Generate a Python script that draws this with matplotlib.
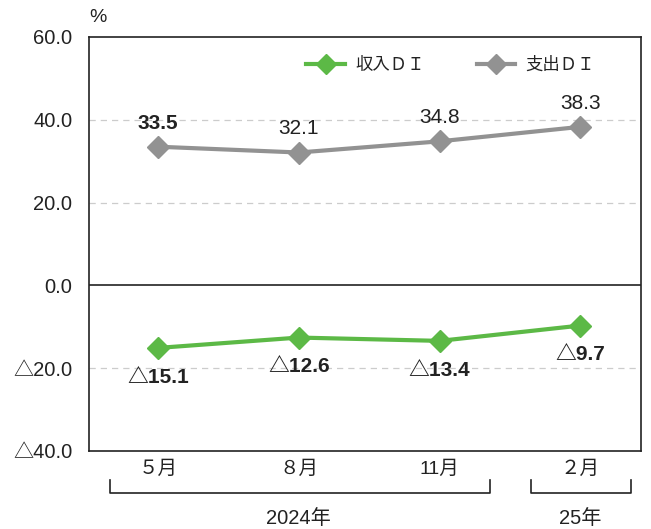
import matplotlib.pyplot as plt

plt.rcParams['font.family'] = ['Liberation Sans', 'Noto Sans CJK JP', 'DejaVu Sans']

months = ['５月', '８月', '11月', '２月']
income_di = [-15.1, -12.6, -13.4, -9.7]
expense_di = [33.5, 32.1, 34.8, 38.3]
y_ticks = [60, 40, 20, 0, -20, -40]
y_tick_labels = ['60.0', '40.0', '20.0', '0.0', '△20.0', '△40.0']
year_groups = [('2024年', 0, 2), ('25年', 3, 3)]

green = '#5cb946'
gray = '#929292'


def fmt(v):
    return f'△{abs(v):.1f}' if v < 0 else f'{v:.1f}'


fig = plt.figure(figsize=(6.51, 5.29), dpi=100)
ax = fig.add_axes([89 / 651, 1 - 451 / 529, 552 / 651, 414 / 529])

x = list(range(len(months)))
ax.plot(x, income_di, color=green, lw=3, marker='D', ms=11.5, label='収入ＤＩ', zorder=3)
ax.plot(x, expense_di, color=gray, lw=3, marker='D', ms=11.5, label='支出ＤＩ', zorder=3)

ax.set_xlim(-0.49, 3.43)
ax.set_ylim(-40, 60)
ax.set_yticks(y_ticks)
ax.set_yticklabels(y_tick_labels, fontsize=14.5, color='#222222')
ax.tick_params(axis='y', length=0, pad=12)
ax.set_xticks(x)
ax.set_xticklabels(months, fontsize=14, color='#222222')
ax.tick_params(axis='x', length=0, pad=7)

for yv in [40, 20, -20]:
    ax.axhline(yv, color='#cccccc', lw=0.9, ls=(0, (5, 4)), zorder=1)
ax.axhline(0, color='#222222', lw=1.2, zorder=2)
for s in ax.spines.values():
    s.set_color('#222222')
    s.set_linewidth(1.2)

# value labels
for i, v in enumerate(expense_di):
    ax.annotate(fmt(v), (i, v), xytext=(0, 17), textcoords='offset points',
                ha='center', va='center', fontsize=15, color='#222222',
                fontweight='bold' if i == 0 else 'normal')
for i, v in enumerate(income_di):
    ax.annotate(fmt(v), (i, v), xytext=(0, -21), textcoords='offset points',
                ha='center', va='center', fontsize=15, fontweight='bold',
                color='#222222')

ax.text(-0.49, 1.027, '%', transform=ax.get_xaxis_transform(), fontsize=14,
        ha='left', va='bottom', color='#222222')

leg = ax.legend(loc='upper center', bbox_to_anchor=(0.655, 0.99), ncol=2, frameon=False,
                fontsize=12.5, handlelength=2.2, columnspacing=3, handletextpad=0.6,
                markerscale=0.9)
for t in leg.get_texts():
    t.set_color('#222222')

# year brackets below the month labels
trans = ax.get_xaxis_transform()
for label, start, end in year_groups:
    x0, x1 = start - 0.34, end + 0.36
    if start == end:
        x0, x1 = start - 0.35, end + 0.36
    yb, yt = -0.102, -0.07
    ax.plot([x0, x0, x1, x1], [yt, yb, yb, yt], color='#222222', lw=1.2,
            transform=trans, clip_on=False)
    ax.text((start + end) / 2, -0.163, label, transform=trans, ha='center',
            va='center', fontsize=14.5, color='#222222')

fig.savefig('out.png', dpi=100)
